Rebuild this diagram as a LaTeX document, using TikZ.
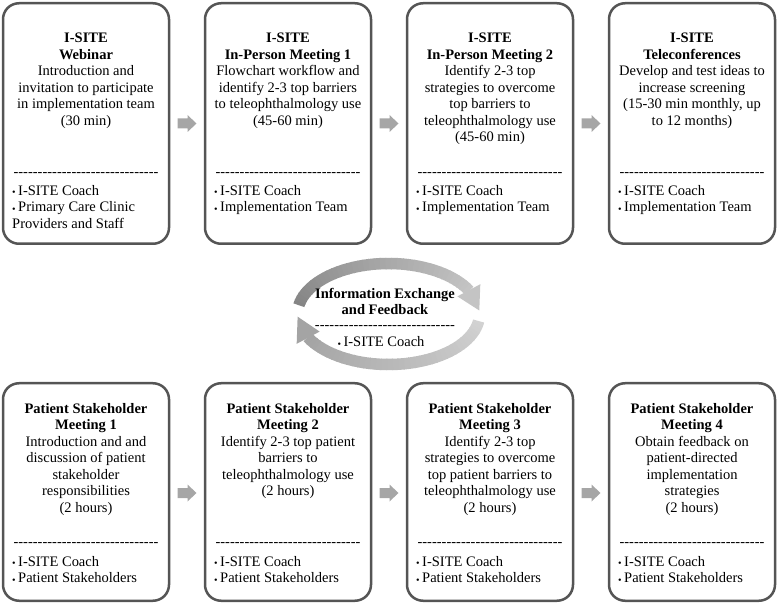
\documentclass[tikz,border=0pt]{standalone}
\usepackage{fontspec}
\setmainfont{Liberation Serif}
\usetikzlibrary{calc}
\definecolor{boxline}{HTML}{555555}
\definecolor{arrowfill}{HTML}{A6A6A6}
\definecolor{upDark}{HTML}{858585}
\definecolor{upLight}{HTML}{C4C4C4}
\definecolor{loLight}{HTML}{D2D2D2}
\definecolor{loDark}{HTML}{A4A4A4}
\newcommand\mybul{\raisebox{-0.8pt}{\fontsize{10}{10}\selectfont\textbullet}\hspace{2.5pt}}
\newcommand\dashrow[1]{\foreach\k in {1,...,#1}{\mbox{-}}}
\tikzset{
  box/.style={draw=boxline, line width=2.5pt, rounded corners=16pt, fill=white, minimum width=166pt, inner sep=0pt},
  ttl/.style={anchor=north, align=center, inner sep=0pt, font=\fontsize{14.5}{16.5}\selectfont},
  bul/.style={anchor=north west, align=left, inner sep=0pt, font=\fontsize{14.5}{16.5}\selectfont},
  dsh/.style={anchor=base, inner sep=0pt, font=\fontsize{14.5}{16.5}\selectfont},
  blockarrow/.pic={\fill[arrowfill] (-9.5,-5) -- (0.5,-5) -- (0.5,-8.5) -- (9.5,0) -- (0.5,8.5) -- (0.5,5) -- (-9.5,5) -- cycle;}
}
\begin{document}
\begin{tikzpicture}[x=1pt,y=-1pt]
\useasboundingbox (0,0) rectangle (780,604);
% top row boxes
\node[box, minimum height=240.5pt] (t1) at (86,123.5) {};
\node[box, minimum height=240.5pt] (t2) at (288,123.5) {};
\node[box, minimum height=240.5pt] (t3) at (490,123.5) {};
\node[box, minimum height=240.5pt] (t4) at (692,123.5) {};
% bottom row boxes
\node[box, minimum height=217.5pt] (b1) at (86,492) {};
\node[box, minimum height=217.5pt] (b2) at (288,492) {};
\node[box, minimum height=217.5pt] (b3) at (490,492) {};
\node[box, minimum height=217.5pt] (b4) at (692,492) {};
% block arrows
\pic at ($(t1.east)!0.5!(t2.west)$) {blockarrow};
\pic at ($(t2.east)!0.5!(t3.west)$) {blockarrow};
\pic at ($(t3.east)!0.5!(t4.west)$) {blockarrow};
\pic at ($(b1.east)!0.5!(b2.west)+(0,1)$) {blockarrow};
\pic at ($(b2.east)!0.5!(b3.west)+(0,1)$) {blockarrow};
\pic at ($(b3.east)!0.5!(b4.west)+(0,1)$) {blockarrow};
% top texts
\node[ttl] (t1a) at (86,31.2) {\strut\textbf{I-SITE}\\\textbf{Webinar}\\Introduction and\\invitation to participate\\in implementation team\\(30 min)};
\node[ttl] (t2a) at (288,31.2) {\strut\textbf{I-SITE}\\\textbf{In-Person Meeting 1}\\Flowchart workflow and\\identify 2-3 top barriers\\to teleophthalmology use\\(45-60 min)};
\node[ttl] (t3a) at (490,31.2) {\strut\textbf{I-SITE}\\\textbf{In-Person Meeting 2}\\Identify 2-3 top\\strategies to overcome\\top barriers to\\teleophthalmology use\\(45-60 min)};
\node[ttl] (t4a) at (692,31.2) {\strut\textbf{I-SITE}\\\textbf{Teleconferences}\\Develop and test ideas to\\increase screening\\(15-30 min monthly, up\\to 12 months)};
\foreach \n/\cx in {t1/86,t2/288,t3/490,t4/692}{
  \node[dsh] (\n d) at (\cx,176.5) {\dashrow{30}};
}
\node[bul] (t1b) at (12,183.3) {\strut\mybul I-SITE Coach\\\mybul Primary Care Clinic\\Providers and Staff};
\node[bul] (t2b) at (214,183.3) {\strut\mybul I-SITE Coach\\\mybul Implementation Team};
\node[bul] (t3b) at (416,183.3) {\strut\mybul I-SITE Coach\\\mybul Implementation Team};
\node[bul] (t4b) at (618,183.3) {\strut\mybul I-SITE Coach\\\mybul Implementation Team};
% bottom texts
\node[ttl] (b1a) at (86,401.3) {\strut\textbf{Patient Stakeholder}\\\textbf{Meeting 1}\\Introduction and and\\discussion of patient\\stakeholder\\responsibilities\\(2 hours)};
\node[ttl] (b2a) at (288,401.3) {\strut\textbf{Patient Stakeholder}\\\textbf{Meeting 2}\\Identify 2-3 top patient\\barriers to\\teleophthalmology use\\(2 hours)};
\node[ttl] (b3a) at (490,401.3) {\strut\textbf{Patient Stakeholder}\\\textbf{Meeting 3}\\Identify 2-3 top\\strategies to overcome\\top patient barriers to\\teleophthalmology use\\(2 hours)};
\node[ttl] (b4a) at (692,401.3) {\strut\textbf{Patient Stakeholder}\\\textbf{Meeting 4}\\Obtain feedback on\\patient-directed\\implementation\\strategies\\(2 hours)};
\foreach \n/\cx in {b1/86,b2/288,b3/490,b4/692}{
  \node[dsh] (\n d) at (\cx,546.5) {\dashrow{30}};
  \node[bul] (\n b) at (\cx-74,554.3) {\strut\mybul I-SITE Coach\\\mybul Patient Stakeholders};
}
% circular arrows
\def\ecx{388.5}\def\ecy{314}\def\era{91}\def\erb{50.5}
% upper arc: from 170 deg clockwise to 28 deg
\foreach \i in {0,...,39}{
  \pgfmathsetmacro\ta{170-\i*142/40}
  \pgfmathsetmacro\tb{\ta-142/40-0.6}
  \pgfmathsetmacro\cc{100-\i*100/39}
  \draw[line width=11.5pt, color=upDark!\cc!upLight] plot[domain=\tb:\ta, samples=4] ({\ecx+\era*cos(\x)},{\ecy-\erb*sin(\x)});
}
\fill[upLight] ({\ecx+(\era+13)*cos(28)},{\ecy-(\erb+13)*sin(28)}) -- ({\ecx+\era*cos(4)},{\ecy-\erb*sin(4)}) -- ({\ecx+(\era-13)*cos(28)},{\ecy-(\erb-13)*sin(28)}) -- cycle;
% lower arc: from -8 deg clockwise to -152 deg
\foreach \i in {0,...,39}{
  \pgfmathsetmacro\ta{-8-\i*144/40}
  \pgfmathsetmacro\tb{\ta-144/40-0.6}
  \pgfmathsetmacro\cc{100-\i*100/39}
  \draw[line width=11.5pt, color=loLight!\cc!loDark] plot[domain=\tb:\ta, samples=4] ({\ecx+\era*cos(\x)},{\ecy-\erb*sin(\x)});
}
\fill[loDark] ({\ecx+(\era+13)*cos(-152)},{\ecy-(\erb+13)*sin(-152)}) -- ({\ecx+\era*cos(-177)},{\ecy-\erb*sin(-177)}) -- ({\ecx+(\era-13)*cos(-152)},{\ecy-(\erb-13)*sin(-152)}) -- cycle;
% centre text
\node[ttl] (ca) at (385,286.3) {\strut\textbf{Information Exchange}\\\textbf{and Feedback}};
\node[dsh] (cd) at (385,329.2) {\dashrow{29}};
\node[dsh] (cb) at (381,346.8) {\mybul I-SITE Coach};
\end{tikzpicture}
\end{document}
